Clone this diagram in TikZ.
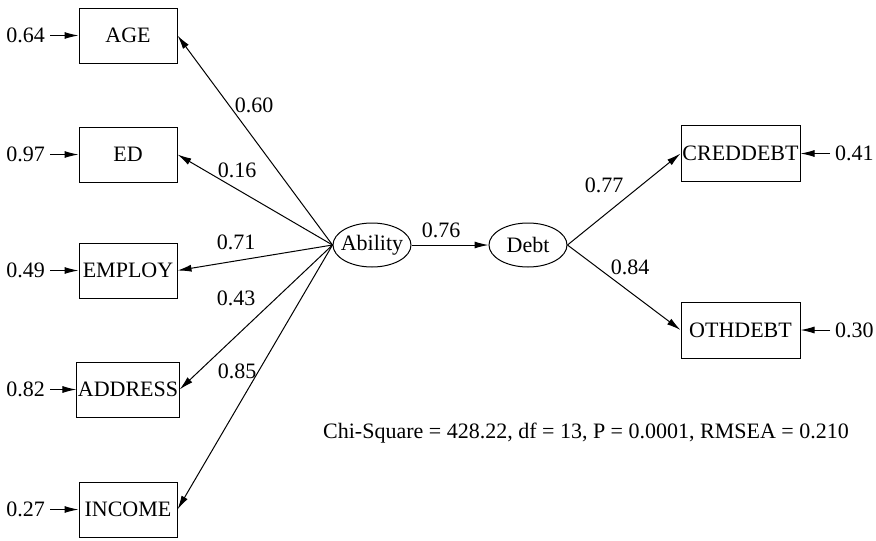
\documentclass[tikz,border=0pt]{standalone}
\usepackage{fontspec}
\setmainfont{Liberation Serif}
\usetikzlibrary{arrows.meta,shapes.geometric}
\begin{document}
\begin{tikzpicture}[x=1pt,y=-1pt,
  every node/.style={font=\fontsize{22}{26}\selectfont},
  obs/.style={draw,line width=1pt,minimum width=98pt,minimum height=55pt,inner sep=1pt},
  obsr/.style={draw,line width=1pt,minimum width=119pt,minimum height=56pt,inner sep=1pt},
  lat/.style={draw,ellipse,line width=1pt,minimum width=78pt,minimum height=44pt,inner sep=0pt},
  path/.style={line width=1pt,-{Latex[length=14pt,width=7pt]}},
  lbl/.style={inner sep=1pt}]
\useasboundingbox (0,0) rectangle (876,541);
\node[obs] (age) at (128,35.5) {AGE};
\node[obs] (ed) at (128,154.5) {ED};
\node[obs] (emp) at (128,270.5) {EMPLOY};
\node[obs] (addr) at (128,389.5) {ADDRESS};
\node[obs] (inc) at (128,509.5) {INCOME};
\node[lat] (ab) at (372,245) {\makebox[50pt]{Ability}};
\node[lat] (debt) at (528,245) {\makebox[50pt]{Debt}};
\node[obsr] (cred) at (740.5,153.5) {CREDDEBT};
\node[obsr] (oth) at (740.5,330) {OTHDEBT};
% error terms
\node[lbl,anchor=east] (eage) at (46,35.5) {0.64};
\node[lbl,anchor=east] (eed) at (46,154.5) {0.97};
\node[lbl,anchor=east] (eemp) at (46,270.5) {0.49};
\node[lbl,anchor=east] (eaddr) at (46,389.5) {0.82};
\node[lbl,anchor=east] (einc) at (46,509.5) {0.27};
\node[lbl,anchor=west] (ecred) at (834,153.5) {0.41};
\node[lbl,anchor=west] (eoth) at (834,330) {0.30};
\foreach \e/\b in {eage/age,eed/ed,eemp/emp,eaddr/addr,einc/inc}
  \draw[path] (\e.east) ++(4,0) -- (\b.west);
\foreach \e/\b in {ecred/cred,eoth/oth}
  \draw[path] (\e.west) ++(-4,0) -- (\b.east);
% loadings
\foreach \b in {age,ed,emp,addr,inc}
  \draw[path] (ab.west) -- (\b.east);
\draw[path] (ab.east) -- (debt.west);
\draw[path] (debt.east) -- (cred.west);
\draw[path] (debt.east) -- (oth.west);
\node[lbl] (l1) at (254,105) {0.60};
\node[lbl] (l2) at (237,170) {0.16};
\node[lbl] (l3) at (236,242) {0.71};
\node[lbl] (l4) at (236,298) {0.43};
\node[lbl] (l5) at (237,371) {0.85};
\node[lbl] (l6) at (441,230) {0.76};
\node[lbl] (l7) at (604,185) {0.77};
\node[lbl] (l8) at (630,267) {0.84};
\node[lbl] (chi) at (586,433) {Chi-Square = 428.22, df = 13, P = 0.0001, RMSEA = 0.210};
\end{tikzpicture}
\end{document}
